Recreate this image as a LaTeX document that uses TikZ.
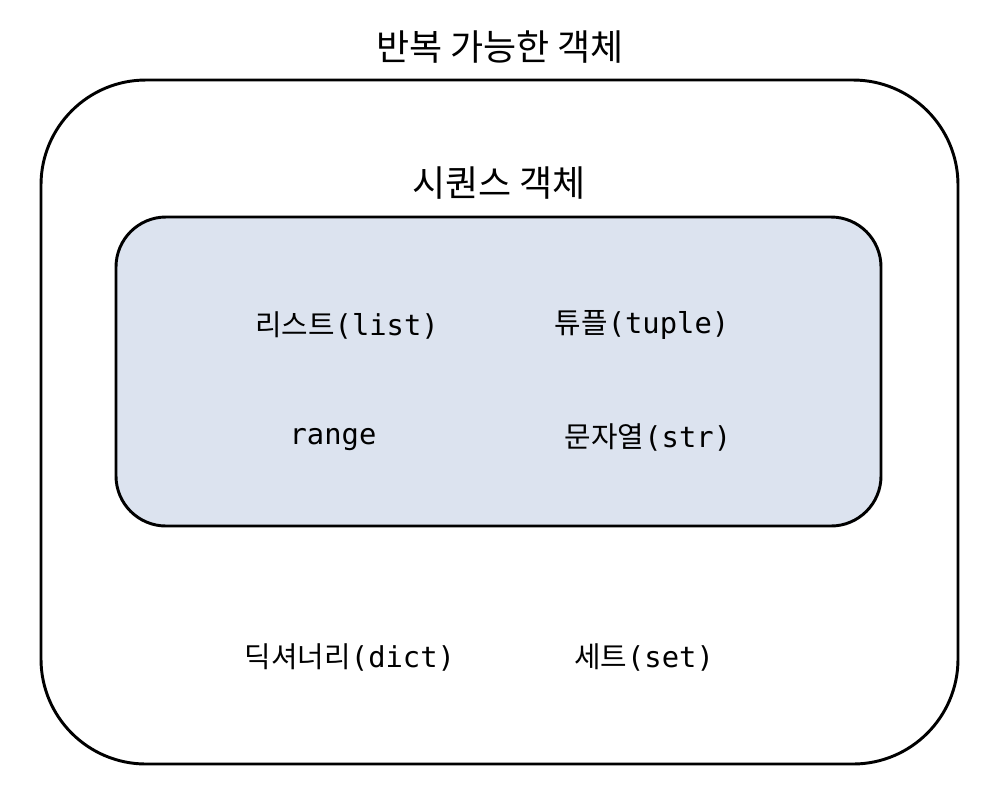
\documentclass[tikz,border=0pt]{standalone}
\usepackage{fontspec}
\setmainfont{Noto Sans CJK KR}
\newfontfamily\latmono{DejaVu Sans Mono}
\newcommand{\lt}[1]{{\latmono #1}}
\definecolor{seqfill}{RGB}{220,227,239}
\begin{document}
\begin{tikzpicture}[x=0.75pt,y=-0.75pt,
  box/.style={draw=black,line width=2.2pt},
  title/.style={font=\fontsize{27}{31}\selectfont,inner sep=0pt},
  item/.style={font=\fontsize{21.6}{25}\selectfont,inner sep=0pt}]
\useasboundingbox (0,0) rectangle (1002,794);
\draw[box,rounded corners=105*0.75pt] (41,80) rectangle (958,764);
\draw[box,fill=seqfill,rounded corners=50*0.75pt] (116,217) rectangle (881,526);
\node[title] (iter) at (500,47) {반복 가능한 객체};
\node[title] (seq) at (499,183) {시퀀스 객체};
\node[item] (list) at (347,325) {리스트\lt{(list)}};
\node[item] (tuple) at (642,325) {튜플\lt{(tuple)}};
\node[item] (range) at (333,440) {\lt{range}};
\node[item] (str) at (648,437) {문자열\lt{(str)}};
\node[item] (dict) at (350,657) {딕셔너리\lt{(dict)}};
\node[item] (set) at (644,657) {세트\lt{(set)}};
\end{tikzpicture}
\end{document}
